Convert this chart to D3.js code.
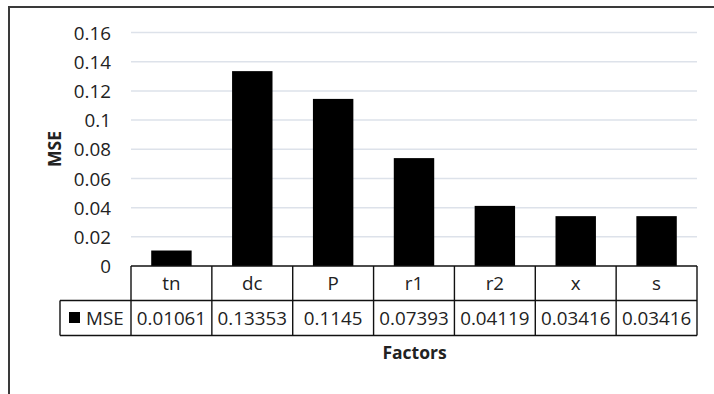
<!DOCTYPE html>
<html><head><meta charset="utf-8">
<script src="https://cdn.jsdelivr.net/npm/d3@7"></script>
<style>body{margin:0;background:#fff}svg{display:block}text{font-family:"Open Sans",sans-serif;fill:#222}</style>
</head><body><svg id="c" width="714" height="394"></svg>
<script>
const categories = ["tn","dc","P","r1","r2","x","s"];
const mseValues = [0.01061,0.13353,0.1145,0.07393,0.04119,0.03416,0.03416];
const mseLabels = ["0.01061","0.13353","0.1145","0.07393","0.04119","0.03416","0.03416"];
const yTicks = [0,0.02,0.04,0.06,0.08,0.1,0.12,0.14,0.16];
const seriesName = "MSE";

(function(){
const svg = d3.select("#c");
const pL = 131, pR = 697, pT = 32.5, pB = 266;
const fs = 18.8;
const x = d3.scaleBand().domain(categories).range([pL,pR]).paddingInner(0.5).paddingOuter(0.25);
const xCell = d3.scaleBand().domain(categories).range([pL,pR]);
const y = d3.scaleLinear().domain([0,0.16]).range([pB,pT]);

// outer frame
svg.append("path").attr("d",`M9,400 V7 H720`).attr("fill","none").attr("stroke","#3a3a3a").attr("stroke-width",2);

// gridlines
svg.append("g").selectAll("line").data(yTicks.filter(d=>d>0)).join("line")
  .attr("x1",pL).attr("x2",pR).attr("y1",d=>y(d)).attr("y2",d=>y(d))
  .attr("stroke","#dde2ea").attr("stroke-width",1.5);

// y axis labels
const yAxis = d3.axisLeft(y).tickValues(yTicks).tickSize(0).tickPadding(0).tickFormat(d=>String(+d.toFixed(2)));
const ya = svg.append("g").attr("transform",`translate(111,0)`).call(yAxis);
ya.select(".domain").remove();
ya.selectAll("text").attr("font-size",fs).attr("font-family","Open Sans").attr("fill","#222").attr("dy","0.35em");

// bars
svg.append("g").selectAll("rect").data(mseValues).join("rect")
  .attr("x",(d,i)=>x(categories[i])).attr("width",x.bandwidth())
  .attr("y",d=>y(d)).attr("height",d=>y(0)-y(d)).attr("fill","#000");

// data table
const r0 = 266, r1 = 300.5, r2 = 335.5, legL = 60;
const tg = svg.append("g").attr("stroke","#111").attr("stroke-width",1.4).attr("fill","none");
tg.append("line").attr("x1",pL).attr("x2",pR).attr("y1",r0).attr("y2",r0);
tg.append("line").attr("x1",legL).attr("x2",pR).attr("y1",r1).attr("y2",r1);
tg.append("line").attr("x1",legL).attr("x2",pR).attr("y1",r2).attr("y2",r2);
tg.append("line").attr("x1",legL).attr("x2",legL).attr("y1",r1).attr("y2",r2);
tg.selectAll("line.v").data(d3.range(categories.length+1)).join("line").attr("class","v")
  .attr("x1",i=>i<categories.length?xCell(categories[i]):pR).attr("x2",i=>i<categories.length?xCell(categories[i]):pR)
  .attr("y1",r0).attr("y2",r2);

svg.append("g").selectAll("text").data(categories).join("text")
  .attr("x",d=>xCell(d)+xCell.bandwidth()/2).attr("y",(r0+r1)/2).attr("dy","0.35em")
  .attr("text-anchor","middle").attr("font-size",fs).text(d=>d);
svg.append("g").selectAll("text").data(mseLabels).join("text")
  .attr("x",(d,i)=>xCell(categories[i])+xCell.bandwidth()/2).attr("y",(r1+r2)/2).attr("dy","0.35em")
  .attr("text-anchor","middle").attr("font-size",fs).text(d=>d);

// legend cell
svg.append("rect").attr("x",69).attr("y",312).attr("width",11).attr("height",11).attr("fill","#000");
svg.append("text").attr("x",86).attr("y",(r1+r2)/2).attr("dy","0.35em").attr("font-size",fs).text(seriesName);

// axis titles
svg.append("text").attr("x",414.5).attr("y",359).attr("text-anchor","middle").attr("font-size",17.5).attr("font-weight","bold").text("Factors");
svg.append("text").attr("transform","translate(61,149) rotate(-90)").attr("text-anchor","middle").attr("font-size",17.5).attr("font-weight","bold").text("MSE");
})();
</script></body></html>
